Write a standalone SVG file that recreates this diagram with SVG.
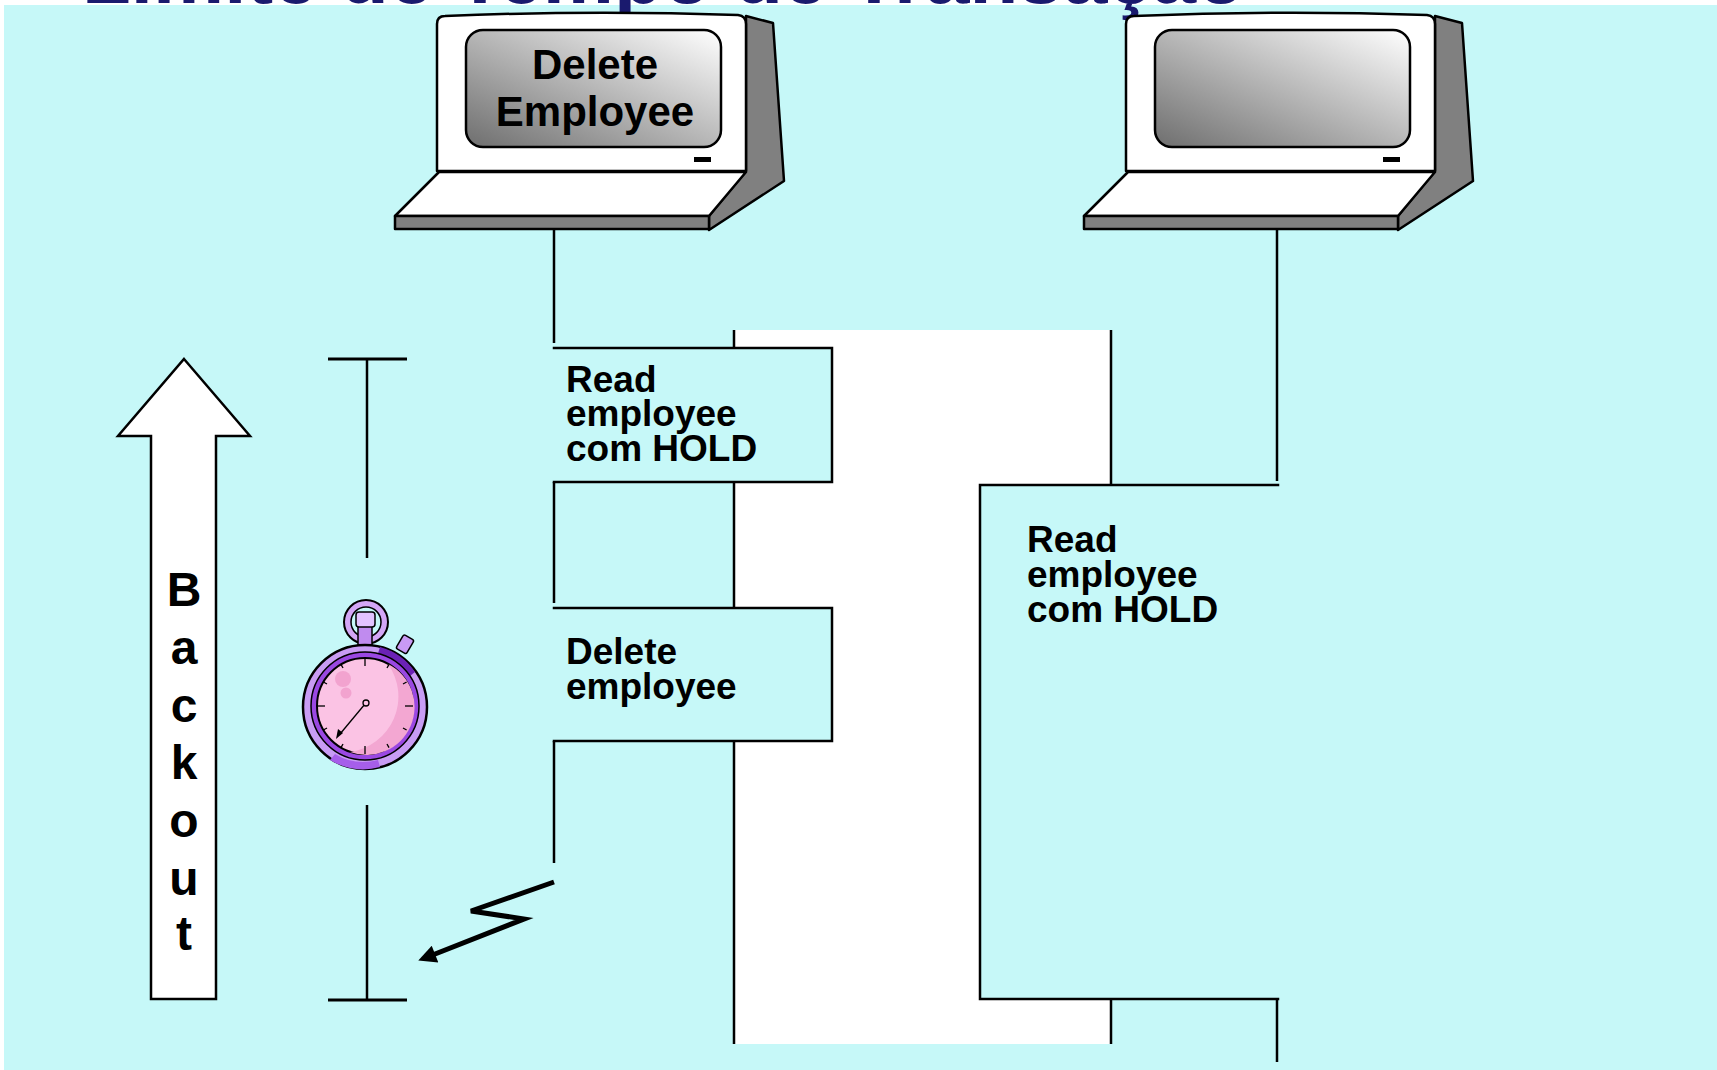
<svg xmlns="http://www.w3.org/2000/svg" width="1717" height="1070" viewBox="0 0 1717 1070">
  <style>
    .bold { font-family: "Liberation Sans", Arial, sans-serif; font-weight: bold; fill: #000; }
    .lbl { font-size: 37px; }
    .ln { stroke: #000; stroke-width: 2.5; fill: none; }
    .edge { stroke: #000; stroke-width: 2.5; fill: none; stroke-linecap: square; }
    .cyan { fill: #C6F8F8; }
    .outline { stroke: #000; stroke-width: 2.5; stroke-linejoin: round; }
  </style>
  <defs>
    <linearGradient id="screenGrad" x1="1" y1="0" x2="0" y2="1">
      <stop offset="0" stop-color="#FFFFFF"/>
      <stop offset="1" stop-color="#6E6E6E"/>
    </linearGradient>
    <marker id="bolt" viewBox="0 0 10 10" refX="3" refY="5" markerUnits="userSpaceOnUse" markerWidth="20" markerHeight="18" orient="auto">
      <path d="M0,0 L10,5 L0,10 z" fill="#000"/>
    </marker>
    <!-- terminal drawn around the left position; the second copy is shifted -->
    <g id="terminal">
      <path class="outline" fill="#808080" d="M746,16 L773,23 L784,181 L709,230 L709,216 L746,171 Z"/>
      <path class="outline" fill="#FFFFFF" d="M437,171 L437,24 Q437,16 445,16 Q590,10 738,15 Q746,16 746,24 L746,171 Z"/>
      <path class="outline" fill="#FFFFFF" d="M439,172 L746,172 L709,216 L395,216 Z"/>
      <rect class="outline" x="395" y="216" width="314" height="13" fill="#808080"/>
      <rect x="466" y="30" width="255" height="117" rx="17" ry="17" fill="url(#screenGrad)" stroke="#000" stroke-width="2.5"/>
      <rect x="694" y="157" width="17" height="5" fill="#000"/>
    </g>
  </defs>

  <!-- slide background -->
  <rect id="bg" x="4" y="5" width="1713" height="1065" class="cyan"/>

  <!-- slide title, cut off at the top edge -->
  <text id="title" x="82" y="3" class="bold" style="font-size:80px; fill:#1A1A6E">Limite de Tempo de Transação</text>

  <!-- lock window between the two programs -->
  <rect id="hold-zone" x="734" y="330" width="377" height="714" fill="#FFFFFF"/>

  <!-- lifelines and connectors -->
  <g id="connectors">
    <line class="ln" x1="554" y1="229" x2="554" y2="343"/>
    <line class="ln" x1="554" y1="482" x2="554" y2="603"/>
    <line class="ln" x1="554" y1="741" x2="554" y2="863"/>
    <line class="ln" x1="734" y1="330" x2="734" y2="1044"/>
    <line class="ln" x1="1111" y1="330" x2="1111" y2="1044"/>
    <line class="ln" x1="1277" y1="230" x2="1277" y2="481"/>
    <line class="ln" x1="1277" y1="999" x2="1277" y2="1062"/>
    <!-- abend: zigzag arrow back to the start -->
    <polyline id="failure-arrow" points="554,882 471,911 524,919 430,956" fill="none" stroke="#000" stroke-width="5" stroke-linejoin="miter" marker-end="url(#bolt)"/>
  </g>

  <!-- terminals -->
  <g id="terminal-delete">
    <use href="#terminal"/>
    <text class="bold" x="595" y="79" text-anchor="middle" style="font-size:42px">Delete</text>
    <text class="bold" x="595" y="126" text-anchor="middle" style="font-size:42px">Employee</text>
  </g>
  <g id="terminal-read">
    <use href="#terminal" transform="translate(689,0)"/>
  </g>

  <!-- program steps -->
  <g id="step-read-1">
    <rect x="554" y="348" width="278" height="134" class="cyan"/>
    <path class="edge" d="M554,348 H832 V482 H554"/>
    <text class="bold lbl" x="566" y="392">Read</text>
    <text class="bold lbl" x="566" y="426">employee</text>
    <text class="bold lbl" x="566" y="461">com HOLD</text>
  </g>
  <g id="step-delete">
    <rect x="554" y="608" width="278" height="133" class="cyan"/>
    <path class="edge" d="M554,608 H832 V741 H554"/>
    <text class="bold lbl" x="566" y="664">Delete</text>
    <text class="bold lbl" x="566" y="699">employee</text>
  </g>
  <g id="step-read-2">
    <rect x="980" y="485" width="298" height="514" class="cyan"/>
    <path class="edge" d="M1278,485 H980 V999 H1278"/>
    <text class="bold lbl" x="1027" y="552">Read</text>
    <text class="bold lbl" x="1027" y="587">employee</text>
    <text class="bold lbl" x="1027" y="622">com HOLD</text>
  </g>

  <!-- backout arrow -->
  <g id="backout">
    <path d="M184,359 L250,436 L216,436 L216,999 L151,999 L151,436 L118,436 Z" fill="#FFFFFF" stroke="#000" stroke-width="2.5" stroke-linejoin="miter"/>
    <g class="bold" style="font-size:48px" text-anchor="middle">
      <text x="184" y="606">B</text>
      <text x="184" y="664">a</text>
      <text x="184" y="722">c</text>
      <text x="184" y="779">k</text>
      <text x="184" y="837">o</text>
      <text x="184" y="895">u</text>
      <text x="184" y="950">t</text>
    </g>
  </g>

  <!-- time limit span -->
  <g id="time-span">
    <line x1="328" y1="359" x2="407" y2="359" stroke="#000" stroke-width="3"/>
    <line class="ln" x1="367" y1="359" x2="367" y2="558"/>
    <line class="ln" x1="367" y1="805" x2="367" y2="999"/>
    <line x1="328" y1="1000" x2="407" y2="1000" stroke="#000" stroke-width="3"/>
  </g>

  <!-- stopwatch -->
  <g id="stopwatch">
    <circle cx="366" cy="622" r="22" fill="#D3A6F6" stroke="#000" stroke-width="2"/>
    <circle cx="366" cy="622" r="15" class="cyan" stroke="#000" stroke-width="1.5"/>
    <rect x="358" y="625" width="14" height="26" fill="#C08BEF" stroke="#000" stroke-width="1.5"/>
    <rect x="356" y="612" width="19" height="15" rx="3" fill="#E3C3FF" stroke="#000" stroke-width="1.5"/>
    <g transform="rotate(30 404 646)">
      <rect x="398" y="636" width="12" height="16" rx="2" fill="#C99AF5" stroke="#000" stroke-width="1.5"/>
    </g>
    <circle cx="365" cy="707" r="62" fill="#C89CF4" stroke="#000" stroke-width="2.5"/>
    <path d="M380,647 A61,61 0 0 1 415,672 L405,680 A50,50 0 0 0 376,660 Z" fill="#6B22B5"/>
    <path d="M330,760 A62,62 0 0 0 380,767 L378,760 A55,55 0 0 1 335,754 Z" fill="#A65EEA"/>
    <circle cx="365" cy="706" r="54" fill="#9A48E2" stroke="#000" stroke-width="1.5"/>
    <circle cx="365" cy="706" r="48" fill="#FBC3E4" stroke="#000" stroke-width="2"/>
    <path d="M388,664 A48,48 0 0 1 350,752 A56,56 0 0 0 388,664 Z" fill="#F3A7D2"/>
    <circle cx="343" cy="679" r="8" fill="#F2A3CF"/>
    <circle cx="346" cy="693" r="5.5" fill="#F2A3CF"/>
    <g stroke="#000" stroke-width="1.3">
      <line x1="365" y1="658" x2="365" y2="666"/>
      <line x1="365" y1="746" x2="365" y2="754"/>
      <line x1="317" y1="706" x2="325" y2="706"/>
      <line x1="405" y1="706" x2="413" y2="706"/>
      <line x1="389" y1="664.4" x2="387" y2="668"/>
      <line x1="406.6" y1="682" x2="403" y2="684"/>
      <line x1="406.6" y1="730" x2="403" y2="728"/>
      <line x1="389" y1="747.6" x2="387" y2="744"/>
      <line x1="341" y1="747.6" x2="343" y2="744"/>
      <line x1="323.4" y1="730" x2="327" y2="728"/>
      <line x1="323.4" y1="682" x2="327" y2="684"/>
      <line x1="341" y1="664.4" x2="343" y2="668"/>
    </g>
    <line x1="365" y1="704" x2="340" y2="734" stroke="#000" stroke-width="1.3"/>
    <path d="M336,739 L338,729 L343,733 Z" fill="#000"/>
    <circle cx="366" cy="703" r="3" fill="#FBC3E4" stroke="#000" stroke-width="1.3"/>
  </g>
</svg>
